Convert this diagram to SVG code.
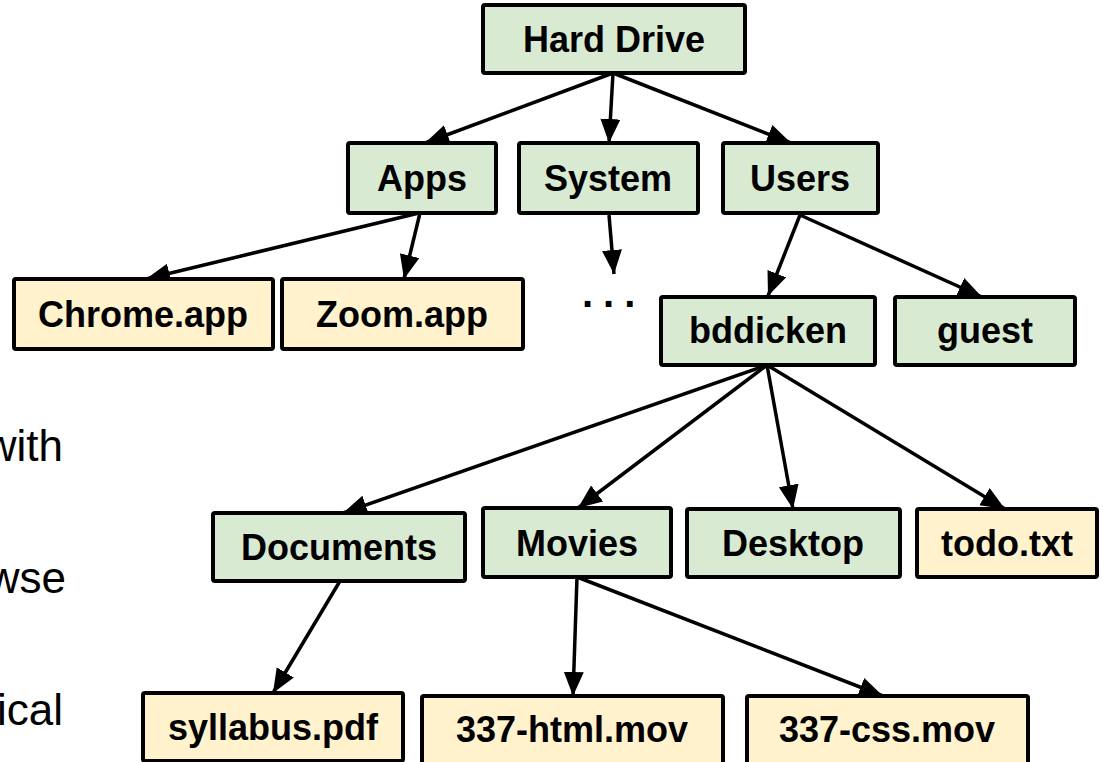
<svg xmlns="http://www.w3.org/2000/svg" width="1103" height="762" viewBox="0 0 1103 762">
<style>
.box{stroke:#000;stroke-width:4}
.dir{fill:#d9ead3}
.file{fill:#fff2cc}
.lbl{font-family:"Liberation Sans",Arial,Helvetica,sans-serif;font-weight:bold;font-size:36px;fill:#000;text-anchor:middle}
.side{font-family:"Liberation Sans",Arial,Helvetica,sans-serif;font-size:44px;fill:#000;text-anchor:end}
.edge{stroke:#000;stroke-width:3.5;fill:none;marker-end:url(#ah)}
</style>
<defs>
<marker id="ah" markerUnits="userSpaceOnUse" markerWidth="26" markerHeight="22" refX="24" refY="10" orient="auto" viewBox="0 0 26 22">
<path d="M0,0 L24,10 L0,20 z" fill="#000"/>
</marker>
</defs>
<rect width="1103" height="762" fill="#fff"/>
<g id="side-text">
<text class="side" x="63" y="461">with</text>
<text class="side" x="66" y="593">wse</text>
<text class="side" x="63" y="725">ical</text>
</g>
<g id="connectors">
<line class="edge" x1="613" y1="73" x2="425" y2="143"/>
<line class="edge" x1="613" y1="73" x2="609" y2="143"/>
<line class="edge" x1="613" y1="73" x2="791" y2="143"/>
<line class="edge" x1="419" y1="213" x2="146" y2="279"/>
<line class="edge" x1="420" y1="213" x2="404" y2="279"/>
<line class="edge" x1="609" y1="215" x2="614" y2="274"/>
<line class="edge" x1="800" y1="215" x2="768" y2="296"/>
<line class="edge" x1="800" y1="215" x2="982" y2="297"/>
<line class="edge" x1="767" y1="365" x2="343" y2="513"/>
<line class="edge" x1="767" y1="365" x2="578" y2="508"/>
<line class="edge" x1="767" y1="365" x2="793" y2="509"/>
<line class="edge" x1="767" y1="365" x2="1005" y2="509"/>
<line class="edge" x1="340" y1="581" x2="273" y2="693"/>
<line class="edge" x1="577" y1="577" x2="573" y2="696"/>
<line class="edge" x1="577" y1="577" x2="883" y2="696"/>
</g>
<g id="n-harddrive"><rect class="box dir" x="483" y="5" width="262" height="68" rx="2"/><text class="lbl" x="614" y="52">Hard Drive</text></g>
<g id="n-apps"><rect class="box dir" x="348" y="143" width="148" height="70" rx="2"/><text class="lbl" x="422" y="191">Apps</text></g>
<g id="n-system"><rect class="box dir" x="519" y="143" width="179" height="70" rx="2"/><text class="lbl" x="608" y="191">System</text></g>
<g id="n-users"><rect class="box dir" x="723" y="143" width="155" height="70" rx="2"/><text class="lbl" x="800" y="191">Users</text></g>
<g id="n-chrome"><rect class="box file" x="14" y="279" width="259" height="70" rx="2"/><text class="lbl" x="143" y="327">Chrome.app</text></g>
<g id="n-zoom"><rect class="box file" x="282" y="279" width="241" height="70" rx="2"/><text class="lbl" x="402" y="327">Zoom.app</text></g>
<g id="n-dots"><text x="582" y="307" style="font-family:'Liberation Sans',Arial,sans-serif;font-weight:bold;font-size:40px;letter-spacing:10px">...</text></g>
<g id="n-bddicken"><rect class="box dir" x="661" y="297" width="214" height="68" rx="2"/><text class="lbl" x="768" y="343">bddicken</text></g>
<g id="n-guest"><rect class="box dir" x="895" y="297" width="180" height="68" rx="2"/><text class="lbl" x="985" y="343">guest</text></g>
<g id="n-documents"><rect class="box dir" x="213" y="513" width="252" height="68" rx="2"/><text class="lbl" x="339" y="560">Documents</text></g>
<g id="n-movies"><rect class="box dir" x="483" y="508" width="188" height="69" rx="2"/><text class="lbl" x="577" y="556">Movies</text></g>
<g id="n-desktop"><rect class="box dir" x="687" y="509" width="213" height="68" rx="2"/><text class="lbl" x="793" y="556">Desktop</text></g>
<g id="n-todo"><rect class="box file" x="917" y="509" width="180" height="68" rx="2"/><text class="lbl" x="1007" y="556">todo.txt</text></g>
<g id="n-syllabus"><rect class="box file" x="143" y="693" width="260" height="68" rx="2"/><text class="lbl" x="273" y="740">syllabus.pdf</text></g>
<g id="n-html"><rect class="box file" x="422" y="696" width="301" height="68" rx="2"/><text class="lbl" x="572" y="742">337-html.mov</text></g>
<g id="n-css"><rect class="box file" x="747" y="696" width="281" height="68" rx="2"/><text class="lbl" x="887" y="742">337-css.mov</text></g>
</svg>
